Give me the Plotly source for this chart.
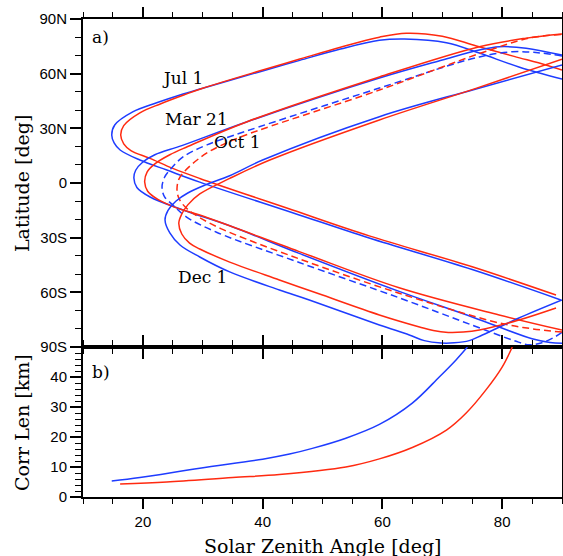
import plotly.graph_objects as go

BLUE = "#1e3cff"
RED = "#ff2a10"

# ---------------- Panel a: latitude vs solar zenith angle ----------------
jul_blue_sza = [89.8, 75, 57.8, 45, 29.5, 24, 19.5, 16.2, 15.2, 14.8, 15.3, 18.3, 22.3, 26.2, 30, 40, 46.2, 53, 59.5, 63.7, 70.7, 76.2, 82.8, 90]
jul_blue_lat = [-64.2, -47.5, -30.2, -16.3, 0.5, 7.1, 12.6, 18.1, 22, 26.3, 31.8, 39, 44, 48.3, 52, 61.5, 67.3, 73.5, 78.3, 79, 77, 71.3, 63.7, 57]

jul_red_sza = [89, 75, 57.8, 45, 29.5, 25, 21.2, 18, 16.8, 16.3, 16.8, 19.5, 23, 27, 30, 40, 46.2, 53, 59.5, 64, 70, 75.7, 82, 87.3, 90]
jul_red_lat = [-61.5, -46, -29, -14.8, 2.5, 8, 13.5, 17.8, 21.5, 26.3, 31.5, 38.5, 43.5, 48.5, 52, 62, 68, 74.5, 80, 82.2, 80.5, 75.2, 69.5, 64.8, 62]

mar_blue_sza = [90, 88, 85, 75, 62.8, 46, 34.5, 26.7, 21.2, 19, 18.5, 18.8, 20, 22, 26.5, 37.3, 59.5, 70, 76.2, 79.5, 84, 90]
mar_blue_lat = [-88, -87.5, -85.5, -73.5, -59.5, -38.5, -23.5, -14.8, -7.7, -2.5, 2.7, 7, 11.5, 15.5, 20.5, 33.5, 57.6, 67.5, 73, 74.8, 74, 70.2]

mar_red_sza = [90, 79.5, 62.8, 46, 29.5, 25.5, 22.5, 20.8, 20.3, 20.7, 22, 24.5, 27.5, 37.3, 59.5, 76.2, 84, 90]
mar_red_lat = [-80.7, -72.4, -57.5, -37.5, -17.6, -13.5, -9, -4.5, 0.5, 6, 10.5, 15.5, 20, 33.5, 58.2, 74.8, 79.5, 81.8]

oct_blue_sza = [90, 88.5, 86.5, 84.5, 82, 75, 62.8, 46, 32.3, 27.3, 25, 23.6, 23.2, 23.6, 24.5, 26.7, 30.7, 37.3, 59.5, 76.2, 81.7, 86, 90]
oct_blue_lat = [-82, -85, -87.8, -88.8, -86.5, -78, -63, -43.5, -27, -18.7, -12, -7.5, -2.2, 3, 7.1, 14.3, 20.9, 28.5, 52.1, 69.2, 72, 71.5, 69.7]

oct_red_sza = [90, 85, 79.5, 62.8, 46, 33, 29.5, 27.5, 26.1, 25.7, 26, 27, 29, 30.7, 33, 37.3, 59.5, 76.2, 84.5, 90]
oct_red_lat = [-81.8, -80, -76.8, -60.5, -41.5, -25, -19, -14.5, -9, -3.8, 2, 6.5, 12.5, 16.5, 20.5, 26.5, 51, 71, 79.5, 81.5]

dec_blue_sza = [90, 82.8, 76.7, 74.5, 72, 69.8, 67, 64.5, 59.5, 47.8, 42.8, 34.5, 29.5, 26.2, 24.5, 23.7, 24.2, 25.5, 27.5, 30.5, 34.5, 40, 59.5, 75.5, 90]
dec_blue_lat = [-64.2, -74.1, -83.4, -86.5, -87.7, -87.8, -86.5, -83.4, -77.9, -64.2, -58.7, -48.8, -40.6, -34, -27.4, -20.3, -15, -10, -5.5, -1, 4, 12.6, 36.4, 51.5, 64.8]

dec_red_sza = [89, 82.8, 76.2, 73.5, 71, 68.5, 66.2, 59.5, 50, 42.8, 34.5, 29.5, 27.8, 26.5, 26, 26.5, 27.5, 29.5, 34.5, 41.2, 59.5, 75.5, 90]
dec_red_lat = [-68.6, -75.2, -80.7, -81.8, -82, -81, -79, -72.4, -61.5, -53.2, -43.4, -36.2, -33, -28, -22, -17, -12, -6, 2.5, 12.6, 34.6, 51.8, 67.9]

# ---------------- Panel b: correlation length vs SZA ----------------
cl_blue_sza = [14.8, 19.5, 29.5, 40, 44.5, 48.3, 53.9, 59.5, 65, 69.5, 72.3, 74.2]
cl_blue_km = [5.3, 6.5, 9.6, 12.6, 14.3, 16.2, 19.6, 24.2, 31.3, 40, 45.7, 50]
cl_red_sza = [16.2, 24, 35, 42.8, 53.9, 59.5, 65, 70.7, 74, 77.3, 80, 81.7]
cl_red_km = [4.3, 5.0, 6.5, 7.5, 10, 12.7, 16.5, 22.3, 28, 35.7, 43.3, 50]

lat_tickvals = [-90, -60, -30, 0, 30, 60, 90]
lat_ticktext = ["90S", "60S", "30S", "0", "30N", "60N", "90N"]
cl_tickvals = [0, 10, 20, 30, 40]
sza_tickvals = [20, 40, 60, 80]

labels = [("Jul 1", 26.7, 57.6), ("Mar 21", 29.0, 35.1), ("Oct 1", 35.8, 22.5), ("Dec 1", 30.0, -51.6)]

fig = go.Figure()

curves = [
    (jul_blue_sza, jul_blue_lat, BLUE, "solid"),
    (jul_red_sza, jul_red_lat, RED, "solid"),
    (mar_blue_sza, mar_blue_lat, BLUE, "solid"),
    (mar_red_sza, mar_red_lat, RED, "solid"),
    (oct_blue_sza, oct_blue_lat, BLUE, "7px,4px"),
    (oct_red_sza, oct_red_lat, RED, "7px,4px"),
    (dec_blue_sza, dec_blue_lat, BLUE, "solid"),
    (dec_red_sza, dec_red_lat, RED, "solid"),
]
for xs, ys, c, d in curves:
    fig.add_trace(go.Scatter(x=xs, y=ys, mode="lines", xaxis="x", yaxis="y",
                             line=dict(color=c, width=1.5, dash=d, shape="spline", smoothing=1.0),
                             showlegend=False, hoverinfo="skip"))

fig.add_trace(go.Scatter(x=cl_blue_sza, y=cl_blue_km, mode="lines", xaxis="x2", yaxis="y2",
                         line=dict(color=BLUE, width=1.5, shape="spline"), showlegend=False))
fig.add_trace(go.Scatter(x=cl_red_sza, y=cl_red_km, mode="lines", xaxis="x2", yaxis="y2",
                         line=dict(color=RED, width=1.5, shape="spline"), showlegend=False))

tickfont = dict(family="Liberation Sans", size=15, color="black")
serif = "DejaVu Serif"
split = 150 / 478

common_x = dict(range=[10, 90], showgrid=False, zeroline=False, showline=True, linecolor="black",
                linewidth=2, ticks="outside", ticklen=10, tickwidth=1.5, tickcolor="black",
                mirror="ticks", tickmode="array", tickvals=sza_tickvals, automargin=False,
                minor=dict(tickmode="linear", tick0=0, dtick=5, ticks="outside", ticklen=5,
                           tickwidth=1.2, tickcolor="black"))

fig.update_layout(
    width=563, height=556,
    margin=dict(l=83, r=1, t=19, b=59),
    plot_bgcolor="white", paper_bgcolor="white",
    xaxis=dict(common_x, anchor="y", domain=[0, 1], showticklabels=False),
    yaxis=dict(domain=[split, 1], range=[-90, 90], anchor="x", showgrid=False, zeroline=False,
               showline=True, linecolor="black", linewidth=2, ticks="outside", ticklen=11,
               tickwidth=1.5, tickcolor="black", mirror="ticks", tickmode="array", automargin=False,
               tickvals=lat_tickvals, ticktext=lat_ticktext, tickfont=tickfont,
               minor=dict(tickmode="linear", tick0=0, dtick=10, ticks="outside", ticklen=6,
                          tickwidth=1.2, tickcolor="black")),
    xaxis2=dict(common_x, anchor="y2", domain=[0, 1], showticklabels=True, tickfont=tickfont),
    yaxis2=dict(domain=[0, split], range=[0, 50], anchor="x2", showgrid=False, zeroline=False,
                showline=True, linecolor="black", linewidth=2, ticks="outside", ticklen=11,
                tickwidth=1.5, tickcolor="black", mirror="ticks", tickmode="array", automargin=False,
                tickvals=cl_tickvals, tickfont=tickfont,
                minor=dict(tickmode="linear", tick0=0, dtick=2, ticks="outside", ticklen=6,
                           tickwidth=1.2, tickcolor="black")),
)

PW = 479.0  # plot area width in px
PH = 478.0
annos = []
for txt, sx, la in labels:
    annos.append(dict(text=txt, x=sx, y=la, xref="x", yref="y", showarrow=False,
                      font=dict(family=serif, size=17, color="black")))
annos.append(dict(text="a)", x=11.2, y=80, xref="x", yref="y", showarrow=False, xanchor="left",
                  font=dict(family=serif, size=17, color="black")))
annos.append(dict(text="b)", x=11.2, y=41.7, xref="x2", yref="y2", showarrow=False, xanchor="left",
                  font=dict(family=serif, size=17, color="black")))
annos.append(dict(text="Latitude [deg]", x=-61 / PW, y=(split + 1) / 2, xref="paper", yref="paper",
                  xanchor="center", yanchor="middle",
                  textangle=-90, showarrow=False, font=dict(family=serif, size=19, color="black")))
annos.append(dict(text="Corr Len [km]", x=-61 / PW, y=split / 2, xref="paper", yref="paper",
                  xanchor="center", yanchor="middle",
                  textangle=-90, showarrow=False, font=dict(family=serif, size=19, color="black")))
annos.append(dict(text="Solar Zenith Angle [deg]", x=0.5, y=-49 / PH, xref="paper", yref="paper",
                  xanchor="center", yanchor="middle", showarrow=False,
                  font=dict(family=serif, size=19, color="black")))
fig.update_layout(annotations=annos)

# remove the default page margin so the 563x556 figure fills the window exactly
fig.write_html(
    "out.html",
    config={"displayModeBar": False},
    post_script="document.body.style.margin='0px';document.body.style.overflow='hidden';"
                "window.dispatchEvent(new Event('resize'));",
)
